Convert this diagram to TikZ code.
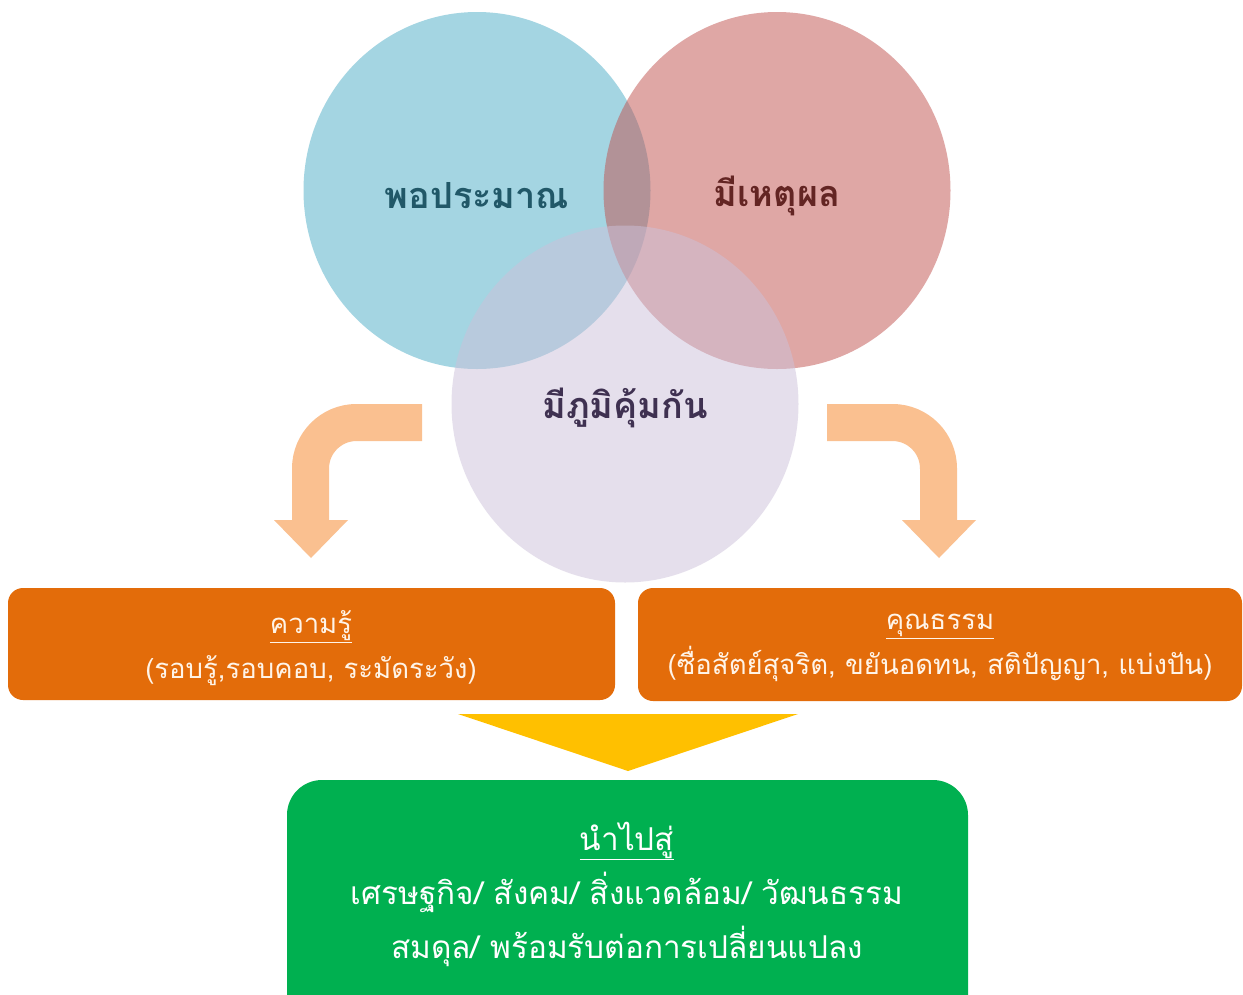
\documentclass[tikz,border=0pt]{standalone}
\usepackage{fontspec}
\usetikzlibrary{shapes.geometric}
\newfontfamily\thaifont[Script=Thai]{Loma}
\definecolor{cblue}{HTML}{4BACC6}
\definecolor{cred}{HTML}{C0504D}
\definecolor{clav}{HTML}{CCC1DA}
\definecolor{tblue}{HTML}{215868}
\definecolor{tred}{HTML}{632523}
\definecolor{tlav}{HTML}{3F3151}
\definecolor{arrowc}{HTML}{FAC090}
\definecolor{boxo}{HTML}{E36C0A}
\definecolor{boxtext}{HTML}{FFF4E8}
\definecolor{tri}{HTML}{FFC000}
\definecolor{boxg}{HTML}{00B050}
\tikzset{
  venn/.style={ellipse, minimum width=347pt, minimum height=357pt, inner sep=0pt,
     fill opacity=0.5},
  venntext/.style={font=\thaifont\fontsize{36}{40}\selectfont\bfseries},
  obox/.style={rounded corners=15pt, fill=boxo, draw=none},
  boxlabel/.style={text=boxtext, align=center, font=\thaifont\fontsize{27.5}{45}\selectfont},
  bentarrow/.style={draw=arrowc, line width=37pt, rounded corners=46pt},
  arrowhead/.style={fill=arrowc, draw=none},
}
\begin{document}
\begin{tikzpicture}[x=1pt,y=-1pt]
\useasboundingbox (0,0) rectangle (1243,994);
\fill[white] (0,0) rectangle (1243,994);
% circles
\node[venn, fill=cblue] (pop) at (477,190.5) {};
\node[venn, fill=cred] (rea) at (777,190.5) {};
\node[venntext, text=tblue] (popt) at ([yshift=-5pt]pop.center) {พอประมาณ};
\node[venntext, text=tred] (reat) at ([yshift=-5pt]rea.center) {มีเหตุผล};
\node[venn, fill=clav] (imm) at (625,404) {};
\node[venntext, text=tlav] (immt) at ([yshift=-4pt]imm.center) {มีภูมิคุ้มกัน};
% bent arrows
\draw[bentarrow] (422,422.5) -- (310.5,422.5) -- (310.5,521);
\fill[arrowhead] (274,520) -- (348,520) -- (311,558) -- cycle;
\draw[bentarrow] (827,422.5) -- (938.5,422.5) -- (938.5,521);
\fill[arrowhead] (902,520) -- (976,520) -- (939,558) -- cycle;
% orange boxes
\fill[obox] (8,588) rectangle (615,700);
\node[boxlabel] (know) at (311,648) {\underline{ความรู้}\\(รอบรู้,รอบคอบ, ระมัดระวัง)};
\fill[obox] (638,588) rectangle (1242,701);
\node[boxlabel] (virt) at (940,648) {\underline{คุณธรรม}\\(ซื่อสัตย์สุจริต, ขยันอดทน, สติปัญญา, แบ่งปัน)};
% yellow triangle
\fill[tri] (458,714) -- (798,714) -- (628,771) -- cycle;
% green box
\fill[boxg, rounded corners=35pt] (287,780) rectangle (968,1030);
\node[text=white, align=center, font=\thaifont\fontsize{31.5}{54}\selectfont] (lead) at (627,894)
  {\underline{นำไปสู่}\\เศรษฐกิจ/ สังคม/ สิ่งแวดล้อม/ วัฒนธรรม\\สมดุล/ พร้อมรับต่อการเปลี่ยนแปลง};
\end{tikzpicture}
\end{document}
